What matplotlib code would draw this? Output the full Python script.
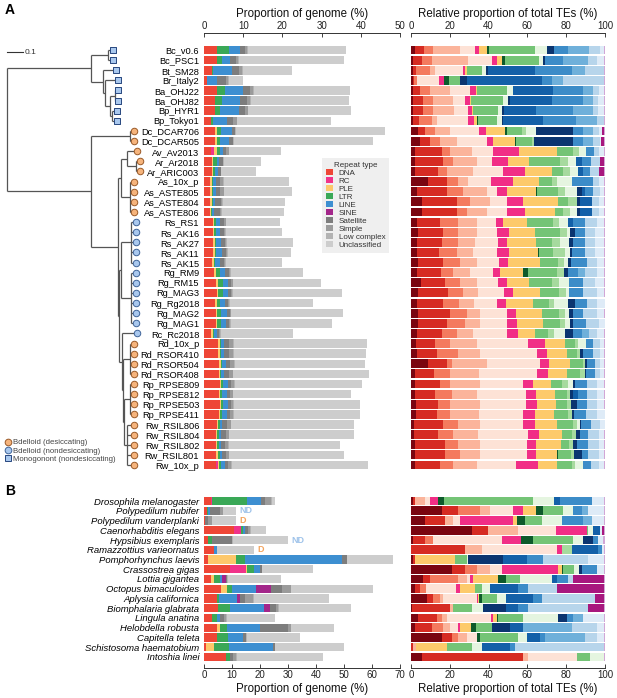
import numpy as np
import matplotlib
matplotlib.use("Agg")
import matplotlib.pyplot as plt
from matplotlib.patches import Patch
from matplotlib.lines import Line2D

plt.rcParams['font.family'] = ['Liberation Sans', 'DejaVu Sans']

# ------------------------------------------------------------------ data
samples_a = ["Bc_v0.6", "Bc_PSC1", "Bt_SM28", "Br_Italy2", "Ba_OHJ22", "Ba_OHJ82",
             "Bp_HYR1", "Bp_Tokyo1", "Dc_DCAR706", "Dc_DCAR505", "Av_Av2013",
             "Ar_Ar2018", "Ar_ARIC003", "As_10x_p", "As_ASTE805", "As_ASTE804",
             "As_ASTE806", "Rs_RS1", "Rs_AK16", "Rs_AK27", "Rs_AK11", "Rs_AK15",
             "Rg_RM9", "Rg_RM15", "Rg_MAG3", "Rg_Rg2018", "Rg_MAG2", "Rg_MAG1",
             "Rc_Rc2018", "Rd_10x_p", "Rd_RSOR410", "Rd_RSOR504", "Rd_RSOR408",
             "Rp_RPSE809", "Rp_RPSE812", "Rp_RPSE503", "Rp_RPSE411", "Rw_RSIL806",
             "Rw_RSIL804", "Rw_RSIL802", "Rw_RSIL801", "Rw_10x_p"]
groups_a = "MMMMMMMMDDDDDDDDDNNNNNNNNNNNNDDDDDDDDDDDDD"

species_b = ["Drosophila melanogaster", "Polypedilum nubifer", "Polypedilum vanderplanki",
             "Caenorhabditis elegans", "Hypsibius exemplaris", "Ramazzottius varieornatus",
             "Pomphorhynchus laevis", "Crassostrea gigas", "Lottia gigantea",
             "Octopus bimaculoides", "Aplysia californica", "Biomphalaria glabrata",
             "Lingula anatina", "Helobdella robusta", "Capitella teleta",
             "Schistosoma haematobium", "Intoshia linei"]
flags_b = ["", "ND", "D", "", "ND", "D", "", "", "", "", "", "", "", "", "", "", ""]

repeat_types = ["DNA", "RC", "PLE", "LTR", "LINE", "SINE", "Satellite", "Simple",
                "Low complex", "Unclassified"]

# Proportion of genome (%), panel A
gen_a_dna = [3.4, 3.2, 2.0, 0.7, 3.3, 2.8, 2.75, 1.75, 2.75, 2.75, 1.9, 2.0, 2.0, 1.5, 1.5, 1.5,
             1.5, 2.2, 2.2, 2.3, 2.3, 2.1, 2.6, 3.1, 3.2, 2.8, 3.0, 3.0, 1.8, 3.6, 3.6, 3.75,
             3.7, 4.0, 3.8, 4.0, 3.8, 3.2, 3.0, 3.0, 3.0, 3.0]
gen_a_rc = [0, 0, 0, 0, 0, 0, 0, 0, 0, 0, 0.7, 0, 0, 0, 0, 0, 0, 0, 0, 0, 0, 0, 0, 0, 0, 0,
            0, 0, 0, 0, 0, 0, 0, 0, 0, 0, 0, 0, 0, 0, 0, 0.5]
gen_a_ple = [0, 0, 0, 0, 0, 0, 0, 0, 0.55, 0.5, 0.7, 0.4, 0.3, 0.5, 0.5, 0.5, 0.3, 0.4, 0.4,
             0.4, 0.4, 0.4, 0.4, 0.4, 0.4, 0.4, 0.4, 0.4, 0.4, 0.4, 0.4, 0.5, 0.4, 0.35, 0.3,
             0.35, 0.3, 0.3, 0.4, 0.3, 0.6, 0.3]
gen_a_ltr = [3.1, 1.5, 0.3, 0, 2.1, 1.9, 1.45, 0.55, 1.1, 0.75, 0.7, 0.8, 0.45, 0.4, 0.4, 0.3,
             0.3, 0.5, 0.4, 0.4, 0.4, 0.3, 1.0, 1.3, 1.2, 0.9, 1.0, 0.9, 0.4, 0.3, 0.3, 0.4,
             0.3, 0.4, 0.5, 0.45, 0.4, 0.5, 0.4, 0.4, 0.4, 0.45]
gen_a_line = [2.7, 2.05, 4.8, 2.6, 4.6, 4.6, 4.8, 3.45, 2.7, 2.5, 0.75, 0.6, 0.75, 0.6, 0.7,
              0.4, 0.4, 1.1, 1.0, 1.3, 1.4, 1.4, 1.4, 1.3, 1.2, 1.2, 1.35, 1.4, 0.7, 0.8, 0.8,
              0.95, 0.8, 1.35, 1.2, 1.4, 1.3, 0.7, 0.5, 0.6, 0.7, 1.0]
gen_a_sine = [0] * 42
gen_a_sat = [1.3, 1.45, 1.9, 2.2, 1.7, 1.6, 1.5, 1.55, 0.8, 1.0, 0.95, 1.0, 0.75, 1.0, 1.1,
             1.7, 1.6, 0.8, 1.0, 0.9, 1.0, 0.8, 0.9, 0.8, 0.8, 0.9, 0.8, 0.7, 0.5, 1.2, 1.2,
             1.0, 1.2, 0.8, 0.8, 0.7, 0.8, 1.1, 1.2, 1.0, 0.8, 0.9]
gen_a_simple = [0.5, 0.6, 0.8, 0.6, 0.8, 0.8, 0.6, 1.0, 0, 0, 0.6, 0, 0, 0.8, 0.8, 0.3, 0.2,
                0.5, 0.3, 0.4, 0.3, 0.3, 0.3, 0.4, 0.3, 0.3, 0.25, 0.2, 0.3, 1.1, 1.1, 1.1,
                0.9, 0.8, 0.7, 0.6, 0.8, 1.0, 0.8, 0.8, 0.8, 0.7]
gen_a_low = [0.2] * 42
gen_a_uncl = [24.9, 26.7, 12.45, 3.65, 24.5, 25.1, 26.2, 23.85, 38.05, 35.45, 13.15, 9.55, 8.8,
              16.65, 17.25, 15.8, 15.8, 13.7, 14.3, 16.75, 16.15, 14.4, 18.45, 22.3, 27.8,
              21.15, 28.5, 25.75, 18.45, 34.05, 33.75, 33.2, 34.6, 32.3, 30.05, 32.1, 32.2,
              31.35, 31.65, 28.4, 29.2, 34.7]

# Proportion of genome (%), panel B
gen_b_dna = [2.4, 1.2, 0.3, 10.8, 1.6, 3.4, 1.4, 9.4, 2.5, 6.0, 4.8, 5.0, 2.8, 4.8, 4.6, 0.7, 7.8]
gen_b_rc = [0.5, 0, 0, 2.5, 0, 0, 0, 5.6, 0, 0, 0, 0, 0, 0, 0, 0, 0]
gen_b_ple = [0, 0, 0, 0, 0, 0, 9.9, 0.4, 1.0, 2.2, 0, 0, 0, 1.0, 0, 2.7, 0]
gen_b_ltr = [12.3, 0.4, 0, 0.6, 1.3, 0, 3.4, 2.4, 2.3, 1.8, 0.4, 4.2, 1.8, 2.4, 4.0, 5.4, 1.6]
gen_b_line = [5.3, 0.6, 0, 0.8, 0, 1.2, 34.5, 2.2, 0.8, 8.4, 6.6, 12.2, 1.2, 11.7, 5.3, 15.7, 0]
gen_b_sine = [0, 0, 0, 0, 0, 0, 0, 0, 1.1, 5.7, 0.9, 2.0, 0, 0, 0, 0, 0]
gen_b_sat = [1.3, 3.6, 1.1, 1.0, 7.1, 0.2, 1.8, 0.6, 0.5, 3.6, 2.1, 2.3, 1.4, 10.0, 1.1, 0.8, 0.8]
gen_b_simple = [2.3, 0.9, 1.4, 0.9, 0, 0, 0, 0, 0, 3.3, 2.7, 0.8, 0.75, 1.1, 0, 0, 1.4]
gen_b_low = [0.2, 0.2, 0.2, 0.2, 0.2, 0, 0.2, 0.2, 0.2, 0.2, 0.2, 0.2, 0.2, 0.2, 0.2, 0.2, 0.2]
gen_b_uncl = [1.0, 4.7, 8.3, 5.2, 19.9, 13.2, 16.3, 18.2, 19.1, 29.2, 27.0, 25.7, 17.15, 15.1,
              19.0, 24.6, 30.7]

# Relative proportion of total TEs (%), panel A, by TE subgroup
te_a_dna1 = [2, 1.2, .9, .9, .9, 1, 1, 1, 3.8, 4.6, 2, 2, 2, 8.9, 2.9, 5.5, 5.5, 2.9, 3.8, 2.9,
             2.9, 3.8, 3.3, 5, 3.8, 2.9, 3.8, 3.8, 2.9, 2.6, 2.9, 8.9, 2, 2, 2, 2.6, 2.6, 1.5,
             1.5, 2, 2, 2]
te_a_dna2 = [4.5, 4.3, 1.7, .8, 3.7, 5, 5.4, 3.3, 3.4, 5.2, 13.8, 14.7, 12.1, 9.5, 15.5, 18, 18,
             12, 12.9, 12.9, 11.7, 12.5, 12, 12.5, 15.4, 13.4, 16.3, 14.9, 12.9, 9.8, 10.3, 9.5,
             9.9, 12.9, 10.4, 11.5, 11, 14.8, 12.6, 15.5, 15.5, 12.9]
te_a_dna3 = [5, 5.1, 7.2, 1.2, 5.2, 5.5, 5.1, 6.3, 5.2, 5.1, 4.3, 5.1, 4.3, 6, 8.6, 6.9, 5.2, 9.5,
             7.7, 8.6, 8.9, 9, 6.5, 7.8, 7.8, 8.6, 8.6, 9.1, 7.7, 7.7, 11.2, 2.6, 8.2, 5.2, 8.6,
             6, 6.5, 8.1, 7.7, 6.9, 7.8, 6.9]
te_a_dna4 = [13.5, 18.9, 2.6, 0, 10.3, 10.3, 10.7, 2.6, 7.7, 8.6, 11.2, 12, 13.7, 5.2, 12, 10.3,
             10.6, 9.4, 9.4, 8.6, 8.6, 8.5, 8.6, 8.5, 7.7, 7.6, 6.9, 7.8, 8.6, 14.1, 11.2, 18.3,
             15.1, 15.5, 12.8, 15.5, 15.1, 11.2, 12.9, 11.2, 10.3, 12]
te_a_dna5 = [8, 12.5, 14.6, 11.7, 10.3, 6, 7, 16.3, 15.1, 15.8, 11.1, 7.8, 15.2, 11.5, 5.2, 8.6,
             10.4, 10, 10.7, 12, 12.1, 11.7, 11.7, 11.2, 13.2, 12, 13.7, 14.1, 17.6, 26.3, 29.2,
             27.2, 29.9, 22, 25.5, 23.7, 22.7, 22.3, 25.8, 24, 24, 20.3]
te_a_rc = [2, 2.5, 1, 2.6, 2.9, 2.6, 2.1, 3, 3.5, 3.1, 13.4, 8.6, 11.5, 11.6, 5.5, 8.3, 9.1, 3.5,
           6.2, 4.7, 6.5, 4.7, 3.8, 4.7, 4.8, 4.5, 4.8, 5.1, 5.6, 8.6, 5.5, 4.5, 5.3, 5.5, 5.1,
           5.8, 6, 6, 5.7, 4.8, 4.8, 11.5]
te_a_ple = [4, 2.5, .7, 0, .5, .5, .5, 1.3, 9.8, 11.2, 19.6, 10.8, 13.7, 13.5, 14.7, 18.4, 15.4,
            12.3, 13.2, 14.7, 14.9, 16.3, 11.7, 11.3, 13.8, 13.7, 13.3, 13.1, 8.6, 10.3, 10.3,
            11, 10.2, 8.9, 9.8, 9.6, 9.8, 11.2, 11.5, 12.7, 11, 9.5]
te_a_ltr1 = [1, 1.6, 0, 2.6, 0, 0, 0, .6, .8, .5, 0, 0, 0, 0, .7, 0, 0, 0, 0, 0, .5, 0, 2.9, 0,
             0, 0, 0, 0, 0, 0, 0, 0, 0, 0, 0, 0, 0, 0, 0, 0, .5, 0]
te_a_ltr2 = [24, 17.4, 7.7, 5.2, 15.9, 16.7, 13.2, 10.1, 7.7, 8.1, 8.3, 15.8, 6, 6.3, 10.9, 5.1,
             4.3, 13.8, 12.9, 8.1, 7.3, 9.5, 14.6, 11.5, 10, 8.6, 9.1, 8.9, 6.9, 5.1, 5.1, 6.5,
             6.5, 5.7, 6, 5.5, 7.4, 8.6, 5.1, 4.5, 6.4, 7.7]
te_a_ltr3 = [0, 0, 0, 0, 0, 0, 0, 0, 2.3, 1.4, 3.1, 4.3, 3.5, 2.6, 3.4, 4.3, 3.5, 3.1, 3.4, 4.3,
             6, 2.9, 3.8, 4, 3.4, 2.4, 2.9, 2.6, 2.9, 1.8, 1.4, 1.2, 2.6, 3.4, 1.8, 2.1, 1.7,
             1.7, 2.2, 1.7, 1.7, 1.7]
te_a_ltr4 = [6, 2, 2.3, 0, 2.7, 2.6, 1.7, 2.2, 5.1, 0, 3.4, 3.9, 4.3, 7.7, 6, 0, 3.4, 4.6, 1.8,
             4.8, 2.6, 2.2, 0, 5.1, 1.7, 7.4, 2.2, 2.6, 5.7, 3.9, 0, 0, 0, 2.2, 0, 0, 0, 1.7, 0,
             0, 0, 4]
te_a_line1 = [3.5, 1, .8, 3.7, .4, .8, 1.4, .9, 18.9, 19.7, 0, 0, 0, 0, 2.6, 1.7, 1.7, 0, 2.5,
              2.1, .9, 1.2, 2.2, 0, 0, 3.4, 2.1, 1.7, 4.3, 0, 1.7, .8, .5, 1.2, 1.3, 3.1, 1.2,
              .3, 2.1, 2.4, 3.9, 0]
te_a_line2 = [0, 0, 24.5, 38.7, 20.6, 21.5, 16.3, 20.3, 0, 0, 0, 3, 2.2, 0, 1.7, 6, 6, 2.6, 0,
              0, 0, 0, 0, 0, 0, 0, 0, 0, 0, 0, 0, 0, 0, 0, 2.9, 0, 0, 0, 0, 0, 0, 0]
te_a_line3 = [7.5, 9.5, 19, 5.1, 15.1, 16, 18.9, 17.1, 5.5, 5.2, 4.1, 4.6, 3.8, 11.2, 4.3, 0, 0,
              6, 5.2, 6, 6.8, 8.2, 5.2, 7.2, 7.2, 6, 5.1, 6.3, 4.3, 3.8, 5.2, 4.3, 4.5, 6, 4.6,
              5.1, 6, 5.2, 4.3, 5.7, 3.4, 4.1]
te_a_line4 = [11, 12.9, 6.7, 6, 5.1, 5.5, 10.7, 10.7, 5.2, 5.1, 0, 0, 0, 0, 0, 0, 0, 0, 0, 0, 0,
              0, 3.4, 0, 0, 0, 0, 0, 3.9, 0, 0, 0, 0, 0, 0, 0, 0, 0, 0, 0, 0, 0]
te_a_line5 = [5.5, 4.6, 9.8, 21, 3.5, 2.6, 2.6, 3.8, 3.1, 3.8, 2.8, 4.8, 4.8, 3.1, 3.4, 4, 4, 6,
              5.1, 5.1, 5.1, 5.2, 6, 6, 6.9, 5.2, 6.9, 6.8, 3.8, 3.4, 3.4, 2.6, 2.6, 5.2, 5.1,
              5.5, 6, 4.8, 5.7, 5.7, 5.7, 4.5]
te_a_line6 = [2, 3.5, 0, 0, 2.4, 2.9, 2.9, 0, 1.2, .4, 2.4, 0, 0, 2.4, 2.1, 2.4, 2.4, 3.8, 4.7,
              4.7, 4.7, 3.8, 3.8, 4.7, 3.8, 4.7, 3.8, 4.7, 3.8, 2.1, 2.1, 2.1, 2.1, 3.8, 3.5,
              3.4, 4.7, 2.4, 2.4, 2.4, 2.4, 2.4]
te_a_sine = [0, 0, 0, 0, 0, 0, 0, 0, 1.2, 1.7, 0, 2.1, 2.4, 0, 0, 0, 0, 0, 0, 0, 0, 0, 0, 0, 0,
             0, 0, 0, 0, 0, 0, 0, 0, 0, 0, 0, 0, 0, 0, 0, 0, 0]

# Relative proportion of total TEs (%), panel B
te_b_dna1 = [.9, 15.8, 7.2, 31.3, 1.2, 0, .9, 21, 6.4, 2, 8.1, .7, 3.8, 2, 15.8, 0, 5.5]
te_b_dna2 = [1.1, 8.6, 10.3, 8.6, 6, 27.8, 1.1, 6.8, 3.4, 2.6, 3.4, 19.4, 9.4, 8.6, 5.2, 1.2, 52.4]
te_b_dna3 = [0, 11.2, 0, 0, 4.3, 0, 0, 6, 14.6, 3.1, 3.5, 0, 2.6, 6.1, 3.4, 0, 0]
te_b_dna4 = [5.2, 5.1, 4.3, 15.4, 0, 8.6, 0, 6.9, 4.3, 0, 1.7, 1.7, 2.6, 3.4, 4.3, 1.4, 2.6]
te_b_dna5 = [2.6, 12, 3.5, 19.4, 35.2, 38.7, 0, 6, 1.7, 15.5, 17.1, 0, 22.7, 4.3, 5.1, 0, 24.9]
te_b_rc = [4.3, 4.9, 27.4, 15.8, 9.8, 2.6, 0, 29.2, 1.4, 2.1, .9, 0, 1.3, .9, 0, 0, 0]
te_b_ple = [0, 6.8, 1.8, 0, 0, 0, 20.7, 1.8, 13.2, 7.7, .5, 0, 1.8, 5.5, 0, 15.8, 0]
te_b_ltr1 = [3.1, 3.5, 4.3, 0, 6.2, 0, 0, .9, 4, 0, 1.2, 0, .9, 2.7, 1.8, 0, 0]
te_b_ltr2 = [45.9, 10.6, 8.6, .9, 21, 0, 6, 5.2, 7.2, 3.4, 7.8, 9.5, 12.5, 8.1, 19.7, 12.9, 6.9]
te_b_ltr3 = [0, 0, 0, 0, 0, 5.1, 0, 0, 0, 0, 0, 0, 0, 0, 0, 0, 0]
te_b_ltr4 = [10.6, 5.2, 10.3, 2.6, 4.8, 0, .9, 2.6, 16.3, 4.3, 4.8, 6, 18.3, 0, 4.3, 5.1, 7.2]
te_b_line1 = [0, 0, 0, 0, 5.5, 0, 18, 1.7, 0, 0, 0, 11.7, 4.3, 9.4, 0, 0, 0]
te_b_line2 = [3.1, 0, 0, 3.4, 0, 13.4, 12, 0, 2.6, 14.6, 14.1, 6.3, 0, 6.6, 6.9, 14.6, 0]
te_b_line3 = [16.3, 4.3, 11.1, 0, 2.6, 2.1, 8.6, 7.7, 6, 5.2, 4.3, 5.2, 3.5, 0, 2.6, 2.6, 0]
te_b_line4 = [0, 3.4, 4.3, 0, 0, 0, 0, 0, 0, 0, 0, 0, 5.1, 25.2, 20.6, 0, 0]
te_b_line5 = [0, 0, 0, 0, 0, 0, 23.2, 0, 2.6, 14.6, 27.4, 30.9, 0, 12.9, 6, 45.9, 0]
te_b_line6 = [6.4, 8.1, 6.4, .9, 2.4, 1.2, 8.1, 3.8, 0, 0, 0, 0, 10.7, 3.8, 3.8, 0, 0]
te_b_sine = [0, 0, 0, 1.2, 0, 0, 0, 0, 15.8, 24.4, 4.7, 8.1, 0, 0, 0, 0, 0]

# phylogeny (branch lengths, substitutions/site)
tree = ([
    ([([("Bc_v0.6", .031), ("Bc_PSC1", .031)], .106),
      ([("Bt_SM28", .081),
        ([("Br_Italy2", .0815),
          ([([("Ba_OHJ22", .019), ("Ba_OHJ82", .019)], .031),
            ([("Bp_HYR1", .031), ("Bp_Tokyo1", .031)], .012)], .0315)], .0125)], .075)], .525),
    ([([("Dc_DCAR706", .025), ("Dc_DCAR505", .025)], .244),
      ([([([("Av_Av2013", .0625), ([("Ar_Ar2018", .025), ("Ar_ARIC003", .025)], .056)], .0375),
           ([(n, .025) for n in ["As_10x_p", "As_ASTE805", "As_ASTE804", "As_ASTE806"]], .0565)],
          .0185),
        ([([([(n, .031) for n in ["Rs_RS1", "Rs_AK16", "Rs_AK27", "Rs_AK11", "Rs_AK15"]], .0625),
             ([(n, .031) for n in ["Rg_RM9", "Rg_RM15", "Rg_MAG3", "Rg_Rg2018", "Rg_MAG2",
                                    "Rg_MAG1"]], .0625)], .0125),
          ([("Rc_Rc2018", .0935),
            ([([(n, .025) for n in ["Rd_10x_p", "Rd_RSOR410", "Rd_RSOR504", "Rd_RSOR408"]], .044),
              ([([(n, .025) for n in ["Rp_RPSE809", "Rp_RPSE812", "Rp_RPSE503", "Rp_RPSE411"]], .038),
                ([(n, .044) for n in ["Rw_RSIL806", "Rw_RSIL804", "Rw_RSIL802", "Rw_RSIL801",
                                       "Rw_10x_p"]], .019)], .006)], .006)], .019)], .006)], .169)],
     .525)], 0.0)

# ------------------------------------------------------------------ styles
gen_colors = ["#ee4636", "#f0338a", "#fdc86b", "#3aa857", "#3d8fd1", "#a3268a",
              "#7d7d7d", "#9b9b9b", "#b3b3b3", "#cdcdcd"]
te_colors = ["#7a0510", "#d62b22", "#f47a5e", "#fbb49b", "#fde2d6",
             "#f12e86", "#fdca6b",
             "#0d5a2b", "#74c476", "#a6da9e", "#e5f5e0",
             "#0b3570", "#1360a8", "#3c8cc8", "#6fb0da", "#b7d5eb", "#deebf7",
             "#a8177e"]
other_color = "#d2a6d6"
grp_style = {"M": dict(marker="s", fc="#a9c8ee", ec="#27477f"),
             "D": dict(marker="o", fc="#f6b47c", ec="#9a5a28"),
             "N": dict(marker="o", fc="#a9c8ee", ec="#3f6499")}

gen_a = [gen_a_dna, gen_a_rc, gen_a_ple, gen_a_ltr, gen_a_line, gen_a_sine, gen_a_sat,
         gen_a_simple, gen_a_low, gen_a_uncl]
gen_b = [gen_b_dna, gen_b_rc, gen_b_ple, gen_b_ltr, gen_b_line, gen_b_sine, gen_b_sat,
         gen_b_simple, gen_b_low, gen_b_uncl]
te_a = [te_a_dna1, te_a_dna2, te_a_dna3, te_a_dna4, te_a_dna5, te_a_rc, te_a_ple, te_a_ltr1,
        te_a_ltr2, te_a_ltr3, te_a_ltr4, te_a_line1, te_a_line2, te_a_line3, te_a_line4,
        te_a_line5, te_a_line6, te_a_sine]
te_b = [te_b_dna1, te_b_dna2, te_b_dna3, te_b_dna4, te_b_dna5, te_b_rc, te_b_ple, te_b_ltr1,
        te_b_ltr2, te_b_ltr3, te_b_ltr4, te_b_line1, te_b_line2, te_b_line3, te_b_line4,
        te_b_line5, te_b_line6, te_b_sine]

# ------------------------------------------------------------------ figure
W, H = 617, 698
fig = plt.figure(figsize=(W / 100, H / 100), dpi=100)


def rect(x0, y0, x1, y1):
    return [x0 / W, 1 - y1 / H, (x1 - x0) / W, (y1 - y0) / H]


ylim_a = (41.69, -1.68)
ylim_b = (17.14, -0.62)
ax_tree = fig.add_axes(rect(0, 33, 200, 472))
ax_ga = fig.add_axes(rect(204, 33, 400, 472))
ax_ta = fig.add_axes(rect(411, 33, 605, 472))
ax_gb = fig.add_axes(rect(204, 495, 400, 668))
ax_tb = fig.add_axes(rect(411, 495, 605, 668))

tick_kw = dict(labelsize=7, length=3, width=0.6, pad=1.5, colors="#222222", direction="in")


def stack(ax, arrays, colors, height, total=None):
    n = len(arrays[0])
    y = np.arange(n)
    left = np.zeros(n)
    for vals, c in zip(arrays, colors):
        vals = np.asarray(vals, dtype=float)
        ax.barh(y, vals, left=left, height=height, color=c, linewidth=0)
        left += vals
    if total is not None:
        rest = np.clip(total - left, 0, None)
        ax.barh(y, rest, left=left, height=height, color=other_color, linewidth=0)
    return left


def style_axis(ax, xmax, step, label, side):
    for s in ["left", "right", "bottom", "top"]:
        ax.spines[s].set_visible(s == side)
    ax.spines[side].set_linewidth(0.7)
    ax.spines[side].set_color("#333333")
    if side == "top":
        ax.xaxis.tick_top()
        ax.xaxis.set_label_position("top")
    ax.set_xlim(0, xmax)
    ax.set_xticks(np.arange(0, xmax + 1, step))
    ax.tick_params(axis="x", **tick_kw)
    ax.set_xlabel(label, fontsize=8.3, labelpad=3 if side == "top" else 2, color="#111111")


# ---- panel A: genome proportion
stack(ax_ga, gen_a, gen_colors, 0.84)
ax_ga.set_ylim(*ylim_a)
style_axis(ax_ga, 50, 10, "Proportion of genome (%)", "top")
ax_ga.set_yticks(np.arange(len(samples_a)))
ax_ga.set_yticklabels(samples_a, fontsize=6.7)
ax_ga.tick_params(axis="y", length=0, pad=3.5)

# ---- panel A: relative TE proportion
stack(ax_ta, te_a, te_colors, 0.88, total=100)
ax_ta.set_ylim(*ylim_a)
style_axis(ax_ta, 100, 20, "Relative proportion of total TEs (%)", "top")
ax_ta.set_yticks([])

# ---- panel B: genome proportion
tot_b = stack(ax_gb, gen_b, gen_colors, 0.84)
ax_gb.set_ylim(*ylim_b)
style_axis(ax_gb, 70, 10, "Proportion of genome (%)", "bottom")
ax_gb.set_yticks(np.arange(len(species_b)))
ax_gb.set_yticklabels(species_b, fontsize=6.8, style="italic")
ax_gb.tick_params(axis="y", length=0, pad=3.5)
for i, (f, t) in enumerate(zip(flags_b, tot_b)):
    if f:
        ax_gb.text(t + 1.2, i, f, color="#9fc3ea" if f == "ND" else "#f3a45e",
                   fontsize=6.5, fontweight="bold", va="center", ha="left")

# ---- panel B: relative TE proportion
stack(ax_tb, te_b, te_colors, 0.88, total=100)
ax_tb.set_ylim(*ylim_b)
style_axis(ax_tb, 100, 20, "Relative proportion of total TEs (%)", "bottom")
ax_tb.set_yticks([])

# ---- tree
ax_tree.set_ylim(*ylim_a)
ax_tree.set_xlim(-7 / 160, 193 / 160)
ax_tree.axis("off")
tips = []
lc = dict(color="#555555", lw=0.9, solid_capstyle="butt")


def draw(node, depth):
    content, bl = node
    d = depth + bl
    if isinstance(content, str):
        y = samples_a.index(content)
        ax_tree.plot([depth, d], [y, y], **lc)
        tips.append((d, y, groups_a[y]))
        return y
    ys = [draw(ch, d) for ch in content]
    y = (min(ys) + max(ys)) / 2
    ax_tree.plot([d, d], [min(ys), max(ys)], **lc)
    if bl > 0:
        ax_tree.plot([depth, d], [y, y], **lc)
    return y


draw(tree, 0.0)
for g, st in grp_style.items():
    xs = [t[0] for t in tips if t[2] == g]
    ys = [t[1] for t in tips if t[2] == g]
    ax_tree.scatter(xs, ys, s=22, marker=st["marker"], facecolor=st["fc"],
                    edgecolor=st["ec"], linewidth=0.7, zorder=5)
ax_tree.plot([0, 0.1], [0.2, 0.2], color="#333333", lw=0.8)
ax_tree.text(0.11, 0.2, "0.1", fontsize=6, va="center", ha="left", color="#333333")

# ---- legends
rep_handles = [Patch(facecolor=c, edgecolor="none") for c in gen_colors]
leg = ax_ga.legend(rep_handles, repeat_types, title="Repeat type", loc="upper left",
                   bbox_to_anchor=(322 / W, 1 - 158 / H), bbox_transform=fig.transFigure,
                   fontsize=5.8, title_fontsize=5.8, frameon=True, fancybox=False,
                   handlelength=0.9, handleheight=0.8, handletextpad=0.7,
                   labelspacing=0.02, borderpad=0.45, borderaxespad=0)
leg.get_frame().set_facecolor("#ebebeb")
leg.get_frame().set_edgecolor("none")
for t in leg.get_texts():
    t.set_color("#333333")
leg.get_title().set_color("#333333")

sp_labels = ["Bdelloid (desiccating)", "Bdelloid (nondesiccating)", "Monogonont (nondesiccating)"]
sp_handles = [Line2D([], [], linestyle="none", marker=grp_style[g]["marker"], markersize=4.8,
                     markerfacecolor=grp_style[g]["fc"], markeredgecolor=grp_style[g]["ec"],
                     markeredgewidth=0.7) for g in ["D", "N", "M"]]
leg2 = fig.legend(sp_handles, sp_labels, loc="upper left", bbox_to_anchor=(4 / W, 1 - 439 / H),
                  fontsize=5.6, frameon=False, handletextpad=0.2, labelspacing=0.12,
                  borderpad=0, borderaxespad=0, handlelength=1.0)
for t in leg2.get_texts():
    t.set_color("#444444")

fig.text(5 / W, 1 - 10 / H, "A", fontsize=10, fontweight="bold", va="center", ha="left")
fig.text(5 / W, 1 - 491 / H, "B", fontsize=10, fontweight="bold", va="center", ha="left")

fig.savefig("out.png", dpi=100)
